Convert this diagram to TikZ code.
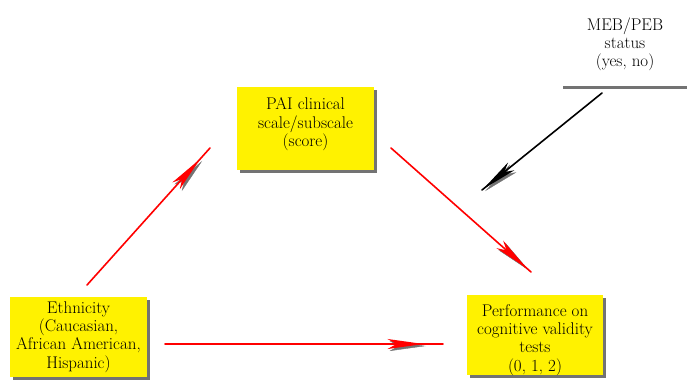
\documentclass[tikz,border=0pt]{standalone}
\usetikzlibrary{arrows.meta,decorations.markings,shadows}
\newcommand\boxtxt[2]{\raisebox{#1}[\height][\depth]{\begin{tabular}{@{}c@{}}#2\end{tabular}}}
\begin{document}
\begin{tikzpicture}[x=1bp,y=-1bp,
  boxtext/.style={inner sep=0pt, font=\fontsize{17}{18.3}\selectfont},
  ybox/.style={boxtext, fill=yellow, draw=none, drop shadow={shadow xshift=3bp, shadow yshift=-3bp, fill=black!55, opacity=1}},
  wbox/.style={boxtext, fill=white, draw=none, drop shadow={shadow xshift=0bp, shadow yshift=-3bp, fill=black!55, opacity=1}},
  conn/.style={line width=1.6bp, line cap=round},
  headat/.style 2 args={postaction={decorate, decoration={markings, mark=at position #1 with {\arrow[#2]{Stealth[length=36bp,width=10bp,inset=9bp]}}}}},
]
\useasboundingbox (0,0) rectangle (687,379);

\node[ybox, minimum width=137bp, minimum height=83bp] (pai) at (305.5,128.5) {\boxtxt{4bp}{PAI clinical\\scale/subscale\\(score)}};
\node[ybox, minimum width=137bp, minimum height=80bp] (eth) at (78.5,337) {\boxtxt{0bp}{Ethnicity\\(Caucasian,\\African American,\\Hispanic)}};
\node[ybox, minimum width=136bp, minimum height=80bp] (perf) at (535,335) {\boxtxt{-5bp}{Performance on\\cognitive validity\\tests\\(0, 1, 2)}};
\node[wbox, minimum width=124bp, minimum height=82bp] (meb) at (625,45) {\boxtxt{0bp}{MEB/PEB\\status\\(yes, no)}};

\coordinate (e1) at (165,344); \coordinate (e2) at (443,344);
\coordinate (u1) at (87,285);  \coordinate (u2) at (210,148);
\coordinate (d1) at (391,148); \coordinate (d2) at (531,272);
\coordinate (k1) at (602,93);  \coordinate (k2) at (482,190);

% arrowhead shadows
\path[headat={0.93}{black!55}] ([shift={(2,2)}]e1) -- ([shift={(2,2)}]e2);
\path[headat={0.92}{black!55}] ([shift={(2,2)}]u1) -- ([shift={(2,2)}]u2);
\path[headat={0.97}{black!55}] ([shift={(2,2)}]d1) -- ([shift={(2,2)}]d2);
\path[headat={0.99}{black!55}] ([shift={(2,2)}]k1) -- ([shift={(2,2)}]k2);

\draw[conn, red, headat={0.93}{red}] (e1) -- (e2);
\draw[conn, red, headat={0.92}{red}] (u1) -- (u2);
\draw[conn, red, headat={0.97}{red}] (d1) -- (d2);
\draw[conn, black, headat={0.99}{black}] (k1) -- (k2);
\end{tikzpicture}
\end{document}
